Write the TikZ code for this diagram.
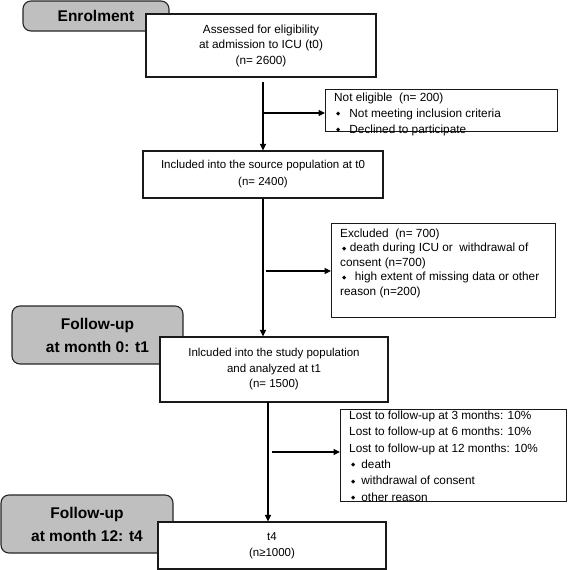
\documentclass[tikz,border=0pt]{standalone}
\usepackage{fontspec}
\setmainfont{Liberation Sans}
\newfontfamily\djv{DejaVu Sans}
\usetikzlibrary{arrows.meta}
\newcommand{\dm}{\raisebox{1.6pt}{\djv\fontsize{5.5}{5.5}\selectfont ◆}}
\begin{document}
\begin{tikzpicture}[x=1pt,y=-1pt,
 lab/.style={draw=black!85, line width=1.1pt, fill=black!25, rounded corners=8pt, font=\bfseries\fontsize{15.5}{23}\selectfont, align=center, inner sep=0pt},
 wbox/.style={draw=black!90, line width=1.1pt, fill=white, inner sep=0pt, font=\fontsize{11.8}{15.5}\selectfont, align=center},
 sbox/.style={draw=black!90, line width=1.1pt, fill=white, inner sep=0pt, anchor=north west},
 txt/.style={font=\fontsize{11.8}{16}\selectfont, align=left, inner sep=0pt, anchor=north west},
 arr/.style={line width=1.2pt, -{Triangle[length=6.5pt,width=6pt]}}]
\useasboundingbox (0,0) rectangle (568,570);
% grey stage labels
\node[lab, minimum width=146pt, minimum height=30pt] (enr) at (96,16) {Enrolment};
\node[lab, minimum width=171pt, minimum height=58pt] (fu0) at (97.5,335) {Follow-up\\at month 0: t1};
\node[lab, minimum width=172pt, minimum height=58pt] (fu12) at (87,524) {Follow-up\\at month 12: t4};
% main boxes
\node[wbox, minimum width=230pt, minimum height=63pt] (assess) at (261,45.5) {Assessed for eligibility\\at admission to ICU (t0)\\(n= 2600)};
\node[wbox, minimum width=240pt, minimum height=47pt, font=\fontsize{11.5}{17}\selectfont] (src) at (263,174.5) {Included into the source population at t0\\(n= 2400)};
\node[wbox, minimum width=228pt, minimum height=65pt, font=\fontsize{11.5}{15.5}\selectfont] (study) at (274,369.5) {Inlcuded into the study population\\and analyzed at t1\\(n= 1500)};
\node[wbox, minimum width=228pt, minimum height=47pt, font=\fontsize{11.5}{15.5}\selectfont] (t4) at (272,545.5) {t4\\(n≥1000)};
% side boxes
\node[sbox, minimum width=232pt, minimum height=42pt] (ne) at (325,89) {};
\node[txt] (netxt) at (334,92.5) {Not eligible\ \ (n= 200)\\\hspace*{2pt}\dm\hspace{9pt}Not meeting inclusion criteria\\\hspace*{2pt}\dm\hspace{9pt}Declined to participate};
\node[sbox, minimum width=224pt, minimum height=94pt] (ex) at (331,223) {};
\node[txt, font=\fontsize{11.8}{14.5}\selectfont] (extxt) at (340,228.5) {Excluded\ \ (n= 700)\\\hspace*{2pt}\dm\hspace{3.5pt}death during ICU or\ \ withdrawal of\\consent (n=700)\\\hspace*{2pt}\dm\hspace{8.5pt}high extent of missing data or other\\reason (n=200)};
\node[sbox, minimum width=226pt, minimum height=92pt] (lost) at (340,409) {};
\node[txt, font=\fontsize{11.8}{16.4}\selectfont] (losttxt) at (349,410.5) {Lost to follow-up at 3 months: 10\%\\Lost to follow-up at 6 months: 10\%\\Lost to follow-up at 12 months: 10\%\\\hspace*{2pt}\dm\hspace{6pt}death\\\hspace*{2pt}\dm\hspace{6pt}withdrawal of consent\\\hspace*{2pt}\dm\hspace{6pt}other reason};
% connectors
\coordinate (c1) at (263,82);
\coordinate (b1) at (263,113);
\draw[arr] (c1) -- (c1 |- src.north);
\draw[arr] (b1) -- (b1 -| ne.west);
\coordinate (b2) at (266,271);
\draw[arr] (src.south) -- (src.south |- study.north);
\draw[arr] (b2) -- (b2 -| ex.west);
\coordinate (c3) at (268,402);
\coordinate (b3) at (272,452);
\draw[arr] (c3) -- (c3 |- t4.north);
\draw[arr] (b3) -- (b3 -| lost.west);
\end{tikzpicture}
\end{document}
